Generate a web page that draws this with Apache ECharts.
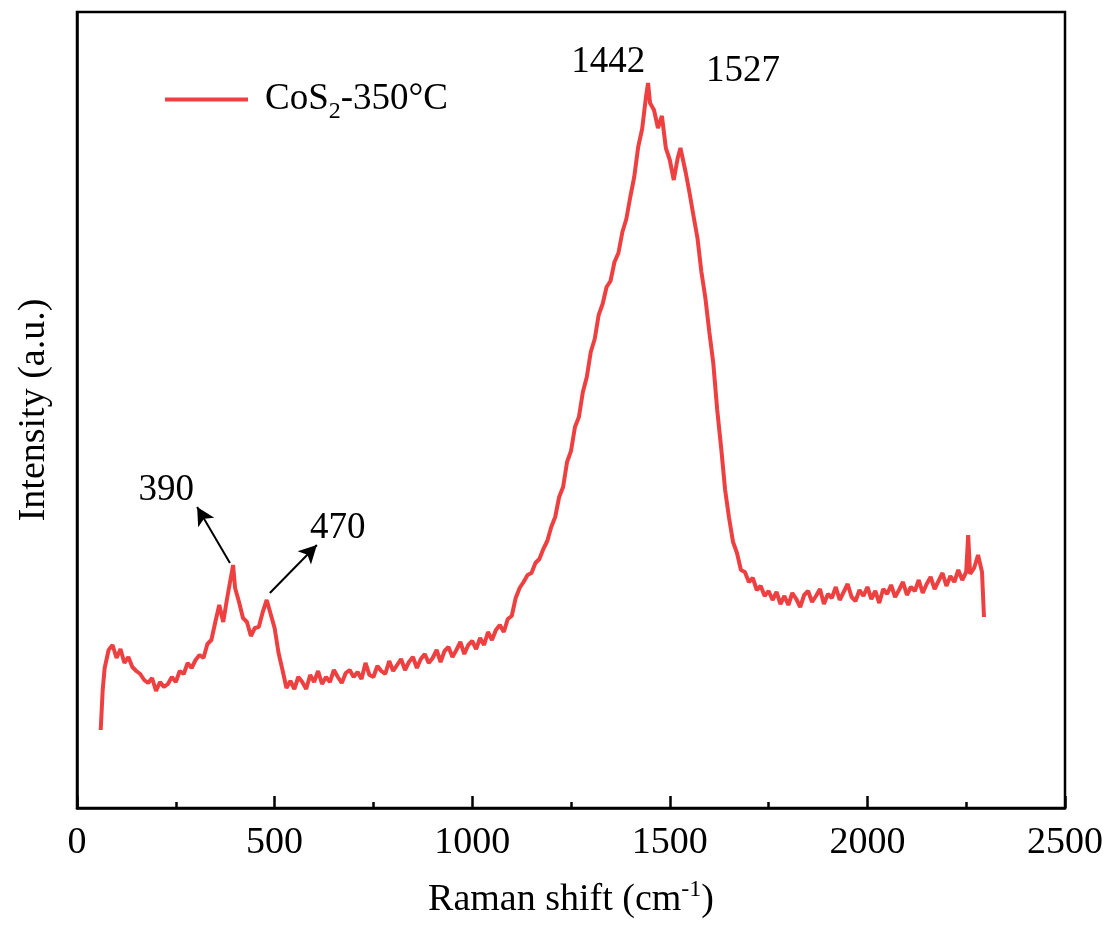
<!DOCTYPE html>
<html>
<head>
<meta charset="utf-8">
<script src="https://cdn.jsdelivr.net/npm/echarts@6/dist/echarts.min.js"></script>
<style>
  html, body { margin: 0; padding: 0; background: #fff; }
  #chart { width: 1114px; height: 927px; }
</style>
</head>
<body>
<div id="chart"></div>
<script>
// Raman shift (cm-1)
var ramanShift = [
  60, 65, 70, 80, 90, 100, 110, 120, 130, 140, 150, 160, 170, 180, 190, 200,
  210, 220, 230, 240, 250, 260, 270, 280, 290, 300, 310, 320, 330, 340, 350,
  360, 370, 380, 390, 395, 400, 410, 420, 430, 440, 450, 460, 470, 480, 490,
  500, 510, 520, 530, 540, 550, 560, 570, 580, 590, 600, 610, 620, 630, 640,
  650, 660, 670, 680, 690, 700, 710, 720, 730, 740, 750, 760, 770, 780, 790,
  800, 810, 820, 830, 840, 850, 860, 870, 880, 890, 900, 910, 920, 930, 940,
  950, 960, 970, 980, 990, 1000, 1010, 1020, 1030, 1040, 1050, 1060, 1070,
  1080, 1090, 1100, 1110, 1120, 1130, 1140, 1150, 1160, 1170, 1180, 1190,
  1200, 1210, 1220, 1230, 1240, 1250, 1260, 1270, 1280, 1290, 1300, 1310,
  1320, 1330, 1340, 1350, 1360, 1370, 1380, 1390, 1400, 1410, 1420, 1430,
  1440, 1445, 1450, 1460, 1470, 1480, 1490, 1500, 1510, 1520, 1527, 1540,
  1550, 1560, 1570, 1580, 1590, 1600, 1610, 1620, 1630, 1640, 1650, 1660,
  1670, 1680, 1690, 1700, 1710, 1720, 1730, 1740, 1750, 1760, 1770, 1780,
  1790, 1800, 1810, 1820, 1830, 1840, 1850, 1860, 1870, 1880, 1890, 1900,
  1910, 1920, 1930, 1940, 1950, 1960, 1970, 1980, 1990, 2000, 2010, 2020,
  2030, 2040, 2050, 2060, 2070, 2080, 2090, 2100, 2110, 2120, 2130, 2140,
  2150, 2160, 2170, 2180, 2190, 2200, 2210, 2220, 2230, 2240, 2250, 2255,
  2260, 2270, 2280, 2290, 2295
];
// Intensity (a.u.)
var intensity = [
  78, 118, 140, 158, 163, 150, 159, 145, 151, 141, 137, 134, 128, 125, 130, 117,
  126, 121, 124, 131, 126, 137, 134, 145, 140, 148, 153, 150, 164, 168, 186,
  203, 186, 210, 232, 243, 220, 206, 190, 186, 172, 180, 181, 196, 208, 194,
  180, 155, 138, 120, 127, 119, 131, 126, 119, 133, 126, 137, 124, 131, 126,
  138, 131, 125, 135, 138, 131, 136, 129, 145, 133, 131, 142, 137, 134, 147,
  137, 143, 149, 138, 146, 151, 140, 149, 154, 145, 150, 158, 146, 157, 161,
  151, 158, 166, 154, 163, 167, 159, 170, 163, 176, 168, 178, 183,
  176, 189, 192, 210, 220, 226, 233, 235, 245, 249, 259, 267,
  281, 291, 311, 321, 346, 357, 381, 391, 416, 431, 456, 469,
  493, 504, 521, 527, 546, 555, 576, 589, 611, 631, 661, 679,
  712, 725, 705, 698, 680, 692, 660, 648, 628, 650, 660, 636,
  615, 592, 570, 536, 510, 476, 445, 398, 360, 318, 290, 266,
  255, 238, 236, 226, 230, 218, 222, 212, 217, 208, 216, 204,
  212, 203, 215, 209, 201, 213, 217, 206, 212, 219, 204, 214,
  210, 221, 208, 216, 224, 211, 207, 218, 212, 221, 209, 217,
  205, 219, 214, 223, 211, 218, 226, 213, 221, 217, 228, 215,
  224, 231, 219, 227, 235, 222, 232, 226, 238, 228, 236, 273,
  234, 240, 253, 236, 191
];

// peak labels and arrows
var peakNames = ['390', '470', '1442', '1527'];
var peakLabelPos = [[226, 318], [660, 280], [1344, 746], [1685, 737]];
var arrowFrom = [[387, 245], [488, 215]];
var arrowTo = [[304, 301], [607, 263]];

var font = '"Times New Roman", "Liberation Serif", serif';

var chart = echarts.init(document.getElementById('chart'));

var seriesData = ramanShift.map(function (x, i) {
  return [x, intensity[i]];
});

chart.setOption({
  animation: false,
  textStyle: { fontFamily: font },
  grid: {
    left: 77,
    right: 49,
    top: 12,
    bottom: 119,
    show: true,
    borderColor: '#000',
    borderWidth: 2.5
  },
  legend: {
    left: 160,
    top: 76,
    icon: 'rect',
    itemWidth: 83,
    itemHeight: 4,
    itemGap: 10,
    formatter: function () {
      return 'CoS{sub|2}-350°C';
    },
    textStyle: {
      fontFamily: font,
      fontSize: 37,
      color: '#000',
      padding: [0, 0, 0, 12],
      rich: {
        sub: { fontFamily: font, fontSize: 24, padding: [24, 0, 0, 0] }
      }
    }
  },
  xAxis: {
    type: 'value',
    min: 0,
    max: 2500,
    interval: 500,
    name: 'Raman shift (cm{sup|-1})',
    nameLocation: 'middle',
    nameGap: 70,
    nameTextStyle: {
      fontFamily: font,
      fontSize: 38,
      color: '#000',
      rich: {
        sup: { fontFamily: font, fontSize: 24, padding: [0, 0, 20, 0] }
      }
    },
    axisLine: { lineStyle: { color: '#000', width: 2.5 } },
    axisTick: { inside: true, length: 12, lineStyle: { color: '#000', width: 2.5 } },
    minorTick: { show: true, splitNumber: 2, length: 6, lineStyle: { color: '#000', width: 2.5 } },
    axisLabel: {
      fontFamily: font,
      fontSize: 38,
      color: '#000',
      margin: 16,
      formatter: function (v) { return String(v); }
    },
    splitLine: { show: false }
  },
  yAxis: {
    type: 'value',
    min: 0,
    max: 796,
    name: 'Intensity (a.u.)',
    nameLocation: 'middle',
    nameRotate: 90,
    nameGap: 24,
    nameTextStyle: { fontFamily: font, fontSize: 38, color: '#000' },
    axisLine: { show: true, lineStyle: { color: '#000', width: 2.5 } },
    axisTick: { show: false },
    axisLabel: { show: false },
    splitLine: { show: false }
  },
  series: [
    {
      name: 'CoS2-350°C',
      type: 'line',
      data: seriesData,
      showSymbol: false,
      symbol: 'none',
      color: '#EE4040',
      lineStyle: { color: '#EE4040', width: 4 },
      markPoint: {
        symbol: 'circle',
        symbolSize: 0,
        label: {
          show: true,
          position: 'inside',
          formatter: '{b}',
          fontFamily: font,
          fontSize: 37,
          color: '#000'
        },
        data: peakNames.map(function (n, i) {
          return { name: n, coord: peakLabelPos[i] };
        })
      },
      markLine: {
        silent: true,
        symbol: ['none', 'arrow'],
        symbolSize: [14, 18],
        label: { show: false },
        lineStyle: { color: '#000', width: 2, type: 'solid' },
        data: arrowFrom.map(function (p, i) {
          return [{ coord: p }, { coord: arrowTo[i] }];
        })
      }
    }
  ]
});
</script>
</body>
</html>
